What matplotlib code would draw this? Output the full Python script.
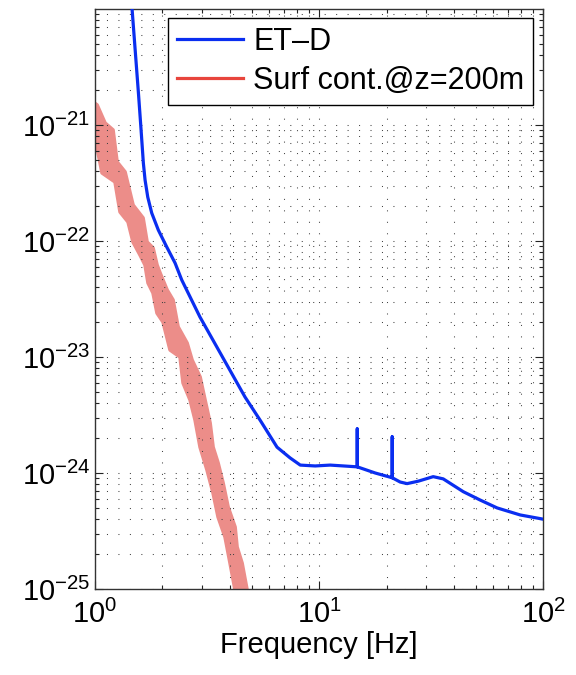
import matplotlib
matplotlib.use("Agg")
import matplotlib.pyplot as plt
from matplotlib.lines import Line2D

plt.rcParams['font.family'] = ['Liberation Sans', 'DejaVu Sans']
plt.rcParams['mathtext.fontset'] = 'custom'
plt.rcParams['mathtext.rm'] = 'Liberation Sans'
plt.rcParams['mathtext.it'] = 'Liberation Sans:italic'
plt.rcParams['mathtext.bf'] = 'Liberation Sans:bold'

# ET-D sensitivity curve (Hz, strain/sqrt(Hz))
etd_freq = [1.454, 1.463, 1.564, 1.605, 1.643, 1.672, 1.719, 1.791, 1.917, 2.090,
            2.276, 2.438, 2.94, 4.67, 5.45, 6.49, 7.42, 8.24, 9.6, 11.2,
            14.8, 14.8, 14.8, 17.8, 21.2, 21.2, 21.2, 23.0, 24.7, 27.7,
            32.3, 35.8, 44.0, 52.3, 62.3, 78.9, 100.0]
etd_psd = [1.2e-20, 1.0e-20, 1.82e-21, 9.06e-22, 4.70e-22, 3.36e-22, 2.39e-22,
           1.74e-22, 1.24e-22, 8.87e-23, 6.46e-23, 4.61e-23, 2.21e-23, 4.52e-24,
           2.86e-24, 1.67e-24, 1.35e-24, 1.17e-24, 1.15e-24, 1.17e-24,
           1.13e-24, 2.4e-24, 1.13e-24, 1.0e-24, 9.1e-25, 2.05e-24, 9.1e-25,
           8.36e-25, 8.1e-25, 8.5e-25, 9.3e-25, 8.9e-25, 6.9e-25, 5.85e-25,
           5.0e-25, 4.35e-25, 4.0e-25]

# Surface contribution band @ z=200 m: low-frequency and high-frequency edges
band_left_freq = [0.950, 1.000, 1.075, 1.228, 1.293, 1.404, 1.478, 1.588, 1.672,
                  1.724, 1.815, 1.891, 2.012, 2.162, 2.396, 2.471, 2.656, 2.796,
                  2.943, 3.162, 3.364, 3.541, 3.804, 4.005, 4.217, 4.260]
band_left_psd = [1.64e-21, 7.73e-22, 3.86e-22, 3.23e-22, 1.78e-22, 1.46e-22,
                 9.8e-23, 7.57e-23, 6.21e-23, 4.35e-23, 3.56e-23, 2.39e-23,
                 2.0e-23, 1.15e-23, 1.0e-23, 5.97e-24, 4.26e-24, 2.86e-24,
                 1.67e-24, 1.06e-24, 6.72e-25, 4.18e-25, 2.81e-25, 1.67e-25,
                 9.8e-26, 8.04e-26]
band_right_freq = [1.021, 1.108, 1.203, 1.254, 1.361, 1.478, 1.638, 1.707, 1.815,
                   1.891, 1.951, 2.097, 2.229, 2.347, 2.575, 2.710, 2.943, 3.097,
                   3.262, 3.364, 3.541, 3.728, 3.925, 4.217, 4.304, 4.532, 4.771, 4.820]
band_right_psd = [1.49e-21, 1.04e-21, 9.06e-22, 4.8e-22, 3.94e-22, 2.04e-22,
                  1.58e-22, 9.8e-23, 8.71e-23, 6.21e-23, 5.3e-23, 3.78e-23,
                  3.1e-23, 1.82e-23, 1.32e-23, 9.42e-24, 6.73e-24, 4.26e-24,
                  2.7e-24, 1.67e-24, 1.22e-24, 8.2e-25, 5.09e-25, 3.42e-25,
                  2.3e-25, 1.67e-25, 9.8e-26, 8.04e-26]

xticks = [1, 10, 100]
yticks = [1e-25, 1e-24, 1e-23, 1e-22, 1e-21]
legend_labels = ['ET\u2013D', 'Surf cont.@z=200m']

fig = plt.figure(figsize=(5.76, 6.75), dpi=100)
ax = fig.add_axes([0.165, 0.1274, 0.778, 0.8593])

# band polygon (opaque pink, grid dots drawn on top)
poly_f = list(band_left_freq) + list(band_right_freq[::-1])
poly_p = list(band_left_psd) + list(band_right_psd[::-1])
ax.fill(poly_f, poly_p, facecolor='#ec8d89', edgecolor='#ec8d89', lw=2.6,
        joinstyle='round', zorder=1)

ax.plot(etd_freq, etd_psd, color='#0a2ef0', lw=2.3, zorder=3,
        solid_joinstyle='round', solid_capstyle='round')

ax.set_xscale('log')
ax.set_yscale('log')
ax.set_xlim(1, 100)
ax.set_ylim(1e-25, 1e-20)
ax.set_xticks(xticks)
ax.set_yticks(yticks)

ax.grid(True, which='both', linestyle=(0, (1, 10)), color='#444444', lw=0.75, zorder=1.5)
ax.tick_params(which='both', direction='in', top=True, right=True,
               labelsize=21, colors='#222222')
ax.tick_params(which='major', length=6, width=0.8)
ax.tick_params(which='minor', length=3, width=0.8)
ax.tick_params(axis='x', pad=8)
for sp in ax.spines.values():
    sp.set_color('#333333')
    sp.set_linewidth(1.0)
for lab in ax.get_xticklabels() + ax.get_yticklabels():
    lab.set_color('black')

ax.set_xlabel('Frequency [Hz]', fontsize=21, labelpad=1)

handles = [Line2D([0], [0], color='#0a2ef0', lw=2.3),
           Line2D([0], [0], color='#e8453c', lw=2.3)]
leg = ax.legend(handles, legend_labels, loc='upper right', bbox_to_anchor=(0.978, 0.985),
                fontsize=22, frameon=True, fancybox=False, edgecolor='black',
                framealpha=1, handlelength=2.15, handletextpad=0.33, labelspacing=0.3,
                borderpad=0.3, borderaxespad=0)
leg.get_frame().set_linewidth(1.0)
leg.set_zorder(5)

fig.savefig('out.png', dpi=100)
